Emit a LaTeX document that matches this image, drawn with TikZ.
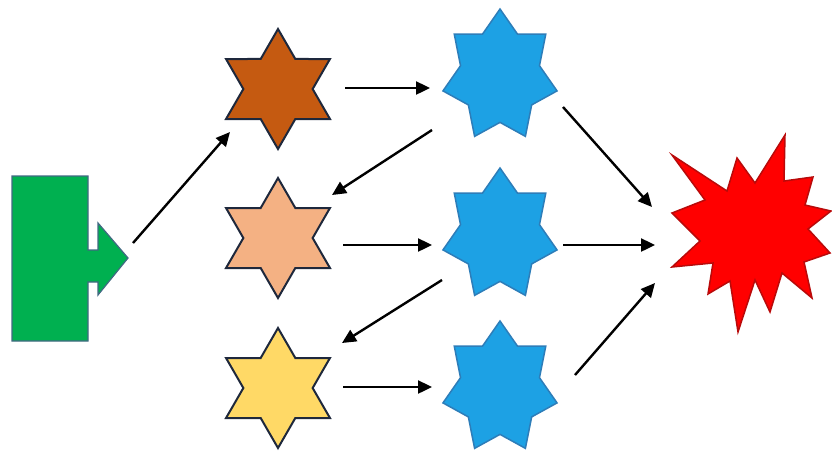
\documentclass[tikz,border=0pt]{standalone}
\usetikzlibrary{shapes.geometric,arrows.meta,calc}
\definecolor{gfill}{RGB}{0,176,80}
\definecolor{gline}{RGB}{65,105,130}
\definecolor{brownf}{RGB}{197,90,17}
\definecolor{peachf}{RGB}{244,177,131}
\definecolor{yellowf}{RGB}{255,217,102}
\definecolor{starline}{RGB}{30,40,60}
\definecolor{bluef}{RGB}{29,161,228}
\definecolor{blueline}{RGB}{45,125,185}
\definecolor{redf}{RGB}{255,0,0}
\definecolor{redline}{RGB}{185,10,10}
\tikzset{
  hexstar/.style={star, star points=6, star point ratio=1.732, minimum size=120pt,
    inner sep=0pt, draw=starline, line width=2pt, line join=miter},
  sevenstar/.style={star, star points=7, star point ratio=1.445, minimum size=117pt,
    inner sep=0pt, draw=blueline, line width=1.5pt, fill=bluef, yscale=1.145},
  arr/.style={line width=2.4pt, -{Triangle[length=14pt,width=13pt]}},
}
\begin{document}
\begin{tikzpicture}[x=1pt,y=-1pt]
\useasboundingbox (0,0) rectangle (832,453);
% green block with arrow
\draw[fill=gfill, draw=gline, line width=1.2pt, line join=miter]
  (12,176) -- (88,176) -- (88,250) -- (98,250) -- (98,223) -- (128,258)
  -- (98,295) -- (98,282) -- (88,282) -- (88,341) -- (12,341) -- cycle;
\coordinate (g) at (70,258);
% hexagrams
\node[hexstar, fill=brownf] (s1) at (278,89) {};
\node[hexstar, fill=peachf] (s2) at (278,238) {};
\node[hexstar, fill=yellowf] (s3) at (278,388) {};
% seven-point stars
\node[sevenstar] (b1) at (500,76) {};
\node[sevenstar] (b2) at (500,235) {};
\node[sevenstar] (b3) at (500,388) {};
% explosion
\draw[fill=redf, draw=redline, line width=1.5pt, line join=miter]
  (672,155) -- (727,191) -- (737,158) -- (755,183) -- (785,135) -- (784,181)
  -- (813,177) -- (805,205) -- (831,211) -- (808,229) -- (830,253) -- (804,262)
  -- (812,298) -- (782,273) -- (770,312) -- (755,280) -- (738,332) -- (730,281)
  -- (708,294) -- (713,263) -- (672,267) -- (700,241) -- (672,213) -- (705,200) -- cycle;
\coordinate (r) at (752,235);
% connectors
\draw[arr] ($(g)+(63,-15)$) -- ($(s1)+(-48,43)$);
\draw[arr] ($(s1)+(67,-1)$) -- ($(b1)+(-70,12)$);
\draw[arr] ($(b1)+(-68,54)$) -- ($(s2)+(54,-43)$);
\draw[arr] ($(s2)+(65,7)$) -- ($(b2)+(-68,10)$);
\draw[arr] ($(b2)+(-58,45)$) -- ($(s3)+(64,-45)$);
\draw[arr] ($(s3)+(65,-1)$) -- ($(b3)+(-68,-1)$);
\draw[arr] ($(b1)+(63,31)$) -- ($(r)+(-100,-28)$);
\draw[arr] ($(b2)+(63,10)$) -- ($(r)+(-97,10)$);
\draw[arr] ($(b3)+(75,-13)$) -- ($(r)+(-97,48)$);
\end{tikzpicture}
\end{document}
